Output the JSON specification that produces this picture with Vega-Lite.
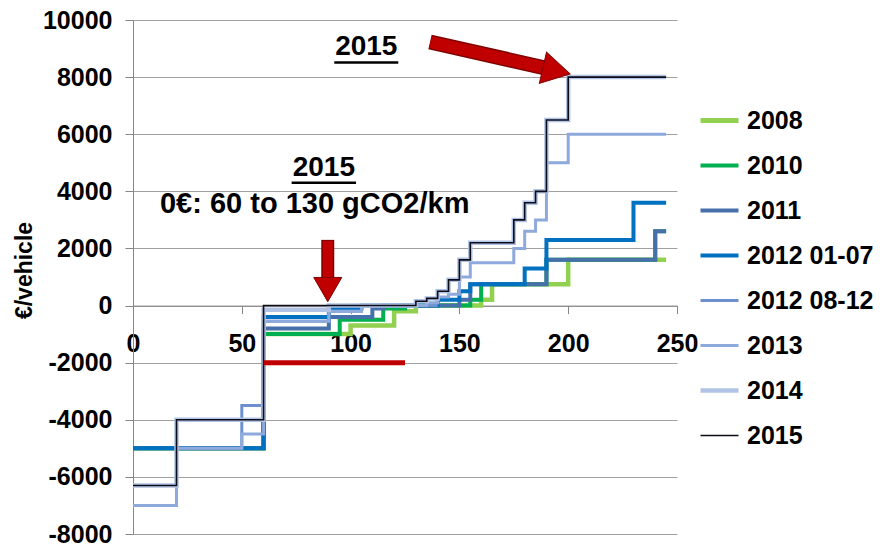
{
  "$schema": "https://vega.github.io/schema/vega-lite/v6.json",
  "width": 544,
  "height": 514,
  "autosize": "none",
  "padding": {"left": 133, "top": 20, "right": 216, "bottom": 11},
  "background": "white",
  "config": {
    "view": {"stroke": null},
    "font": "Liberation Sans",
    "legend": {
      "orient": "none",
      "legendX": 574,
      "legendY": 88,
      "symbolType": "stroke",
      "symbolSize": 1444,
      "rowPadding": 19,
      "labelFontSize": 25,
      "labelFont": "Liberation Sans",
      "labelFontWeight": "bold",
      "labelColor": "#000000",
      "labelOffset": 15,
      "labelLimit": 300,
      "padding": 0
    }
  },
  "datasets": {
    "steps": [
      {"series": "2008", "g": 0, "eur": -5000}, {"series": "2008", "g": 60, "eur": -1000}, {"series": "2008", "g": 100, "eur": -700}, {"series": "2008", "g": 120, "eur": -200}, {"series": "2008", "g": 130, "eur": 0}, {"series": "2008", "g": 160, "eur": 200}, {"series": "2008", "g": 165, "eur": 750}, {"series": "2008", "g": 200, "eur": 1600}, {"series": "2008", "g": 245, "eur": 1600},
      {"series": "2010", "g": 0, "eur": -5000}, {"series": "2010", "g": 60, "eur": -1000}, {"series": "2010", "g": 95, "eur": -500}, {"series": "2010", "g": 115, "eur": -100}, {"series": "2010", "g": 125, "eur": 0}, {"series": "2010", "g": 155, "eur": 200}, {"series": "2010", "g": 160, "eur": 750}, {"series": "2010", "g": 190, "eur": 1600}, {"series": "2010", "g": 240, "eur": 2600}, {"series": "2010", "g": 245, "eur": 2600},
      {"series": "2011", "g": 0, "eur": -5000}, {"series": "2011", "g": 60, "eur": -800}, {"series": "2011", "g": 90, "eur": -400}, {"series": "2011", "g": 110, "eur": -100}, {"series": "2011", "g": 115, "eur": 0}, {"series": "2011", "g": 150, "eur": 200}, {"series": "2011", "g": 155, "eur": 750}, {"series": "2011", "g": 190, "eur": 1600}, {"series": "2011", "g": 240, "eur": 2600}, {"series": "2011", "g": 245, "eur": 2600},
      {"series": "2012 01-07", "g": 0, "eur": -5000}, {"series": "2012 01-07", "g": 60, "eur": -400}, {"series": "2012 01-07", "g": 90, "eur": -100}, {"series": "2012 01-07", "g": 105, "eur": 0}, {"series": "2012 01-07", "g": 140, "eur": 200}, {"series": "2012 01-07", "g": 150, "eur": 500}, {"series": "2012 01-07", "g": 155, "eur": 750}, {"series": "2012 01-07", "g": 180, "eur": 1300}, {"series": "2012 01-07", "g": 190, "eur": 2300}, {"series": "2012 01-07", "g": 230, "eur": 3600}, {"series": "2012 01-07", "g": 245, "eur": 3600},
      {"series": "2012 08-12", "g": 0, "eur": -7000}, {"series": "2012 08-12", "g": 20, "eur": -5000}, {"series": "2012 08-12", "g": 50, "eur": -3500}, {"series": "2012 08-12", "g": 60, "eur": -550}, {"series": "2012 08-12", "g": 90, "eur": -200}, {"series": "2012 08-12", "g": 105, "eur": 0}, {"series": "2012 08-12", "g": 140, "eur": 0},
      {"series": "2013", "g": 0, "eur": -7000}, {"series": "2013", "g": 20, "eur": -5000}, {"series": "2013", "g": 50, "eur": -4500}, {"series": "2013", "g": 60, "eur": -550}, {"series": "2013", "g": 90, "eur": -200}, {"series": "2013", "g": 105, "eur": 0}, {"series": "2013", "g": 135, "eur": 100}, {"series": "2013", "g": 140, "eur": 300}, {"series": "2013", "g": 145, "eur": 400}, {"series": "2013", "g": 150, "eur": 1000}, {"series": "2013", "g": 155, "eur": 1500}, {"series": "2013", "g": 175, "eur": 2000}, {"series": "2013", "g": 180, "eur": 2600}, {"series": "2013", "g": 185, "eur": 3000}, {"series": "2013", "g": 190, "eur": 5000}, {"series": "2013", "g": 200, "eur": 6000}, {"series": "2013", "g": 245, "eur": 6000},
      {"series": "2014", "g": 0, "eur": -6300}, {"series": "2014", "g": 20, "eur": -4000}, {"series": "2014", "g": 60, "eur": -150}, {"series": "2014", "g": 90, "eur": 0}, {"series": "2014", "g": 130, "eur": 150}, {"series": "2014", "g": 135, "eur": 250}, {"series": "2014", "g": 140, "eur": 500}, {"series": "2014", "g": 145, "eur": 900}, {"series": "2014", "g": 150, "eur": 1600}, {"series": "2014", "g": 155, "eur": 2200}, {"series": "2014", "g": 175, "eur": 3000}, {"series": "2014", "g": 180, "eur": 3600}, {"series": "2014", "g": 185, "eur": 4000}, {"series": "2014", "g": 190, "eur": 6500}, {"series": "2014", "g": 200, "eur": 8000}, {"series": "2014", "g": 245, "eur": 8000},
      {"series": "2015", "g": 0, "eur": -6300}, {"series": "2015", "g": 20, "eur": -4000}, {"series": "2015", "g": 60, "eur": 0}, {"series": "2015", "g": 130, "eur": 150}, {"series": "2015", "g": 135, "eur": 250}, {"series": "2015", "g": 140, "eur": 500}, {"series": "2015", "g": 145, "eur": 900}, {"series": "2015", "g": 150, "eur": 1600}, {"series": "2015", "g": 155, "eur": 2200}, {"series": "2015", "g": 175, "eur": 3000}, {"series": "2015", "g": 180, "eur": 3600}, {"series": "2015", "g": 185, "eur": 4000}, {"series": "2015", "g": 190, "eur": 6500}, {"series": "2015", "g": 200, "eur": 8000}, {"series": "2015", "g": 245, "eur": 8000}
    ]
  },
  "layer": [
    {
      "data": {"name": "steps"},
      "mark": {"type": "line", "interpolate": "step-after", "strokeJoin": "miter"},
      "encoding": {
        "x": {
          "field": "g", "type": "quantitative",
          "scale": {"domain": [0, 250], "nice": false, "zero": false},
          "axis": {
            "values": [0, 50, 100, 150, 200, 250], "title": null, "grid": false,
            "offset": -228.4, "domainColor": "#868686", "tickColor": "#868686", "tickSize": 8,
            "labelFontSize": 25, "labelFont": "Liberation Sans", "labelFontWeight": "bold", "labelColor": "#000000",
            "labelPadding": 18, "labelFlush": false, "labelOverlap": false
          }
        },
        "y": {
          "field": "eur", "type": "quantitative",
          "scale": {"domain": [-8000, 10000], "nice": false, "zero": false},
          "axis": {
            "values": [-8000, -6000, -4000, -2000, 0, 2000, 4000, 6000, 8000, 10000],
            "title": "€/vehicle", "grid": true, "gridColor": "#A0A0A0", "gridWidth": 1,
            "domainColor": "#868686", "tickColor": "#868686", "tickSize": 8,
            "labelFontSize": 25, "labelFont": "Liberation Sans", "labelFontWeight": "bold", "labelColor": "#000000",
            "labelPadding": 13, "labelFlush": false, "labelOverlap": false,
            "labelExpr": "datum.value < 0 ? '-' + abs(datum.value) : '' + datum.value",
            "titleFontSize": 23, "titleFont": "Liberation Sans", "titleFontWeight": "bold", "titleColor": "#000000", "titlePadding": 6, "titleY": 250
          }
        },
        "color": {
          "field": "series", "type": "nominal",
          "scale": {
            "domain": ["2008", "2010", "2011", "2012 01-07", "2012 08-12", "2013", "2014", "2015"],
            "range": ["#92D050", "#00B050", "#4770AA", "#0070C0", "#6E90CF", "#8EA9DB", "#B0C3E4", "#0D0D1A"]
          },
          "legend": {
            "title": null,
            "encode": {
              "symbols": {
                "update": {
                  "strokeWidth": {"signal": "datum.value === '2015' ? 1.5 : datum.value === '2008' ? 5 : datum.value === '2014' ? 4.5 : datum.value === '2013' ? 3 : datum.value === '2012 08-12' ? 3 : 4"}
                }
              }
            }
          }
        },
        "strokeWidth": {
          "condition": [
            {"test": "datum.series === '2015'", "value": 1.6},
            {"test": "datum.series === '2008' || datum.series === '2014'", "value": 4.5},
            {"test": "datum.series === '2012 08-12' || datum.series === '2013'", "value": 3}
          ],
          "value": 4
        }
      }
    },
    {
      "data": {"values": [{}]},
      "mark": {"type": "rule", "color": "#C00000", "strokeWidth": 5},
      "encoding": {"x": {"datum": 60, "type": "quantitative"}, "x2": {"datum": 125}, "y": {"datum": -2000, "type": "quantitative"}}
    },
    {
      "data": {"values": [{}]},
      "mark": {"type": "rule", "color": "#7F0000", "strokeWidth": 15, "strokeCap": "butt"},
      "encoding": {"x": {"datum": 136.5, "type": "quantitative"}, "x2": {"datum": 194.0}, "y": {"datum": 9230, "type": "quantitative"}, "y2": {"datum": 8240}}
    },
    {
      "data": {"values": [{}]},
      "mark": {"type": "rule", "color": "#C00000", "strokeWidth": 12, "strokeCap": "butt"},
      "encoding": {"x": {"datum": 136.7, "type": "quantitative"}, "x2": {"datum": 194.6}, "y": {"datum": 9228, "type": "quantitative"}, "y2": {"datum": 8230}}
    },
    {
      "data": {"values": [{}]},
      "mark": {"type": "point", "shape": "triangle-right", "filled": true, "size": 1024, "angle": 12.9, "fill": "#C00000", "stroke": "#7F0000", "strokeWidth": 1, "opacity": 1},
      "encoding": {"x": {"datum": 194.6, "type": "quantitative"}, "y": {"datum": 8218, "type": "quantitative"}}
    },
    {
      "data": {"values": [{}]},
      "mark": {"type": "rule", "color": "#7F0000", "strokeWidth": 13, "strokeCap": "butt"},
      "encoding": {"x": {"datum": 89.5, "type": "quantitative"}, "y": {"datum": 2300, "type": "quantitative"}, "y2": {"datum": 600}}
    },
    {
      "data": {"values": [{}]},
      "mark": {"type": "rule", "color": "#C00000", "strokeWidth": 10, "strokeCap": "butt"},
      "encoding": {"x": {"datum": 89.5, "type": "quantitative"}, "y": {"datum": 2260, "type": "quantitative"}, "y2": {"datum": 560}}
    },
    {
      "data": {"values": [{}]},
      "mark": {"type": "point", "shape": "triangle-down", "filled": true, "size": 784, "fill": "#C00000", "stroke": "#7F0000", "strokeWidth": 1, "opacity": 1},
      "encoding": {"x": {"datum": 89.5, "type": "quantitative"}, "y": {"datum": 560, "type": "quantitative"}}
    },
    {
      "data": {"values": [{}]},
      "mark": {"type": "text", "fontSize": 28, "fontWeight": "bold", "font": "Liberation Sans", "align": "center", "baseline": "middle", "color": "#000000"},
      "encoding": {"x": {"datum": 107.2, "type": "quantitative"}, "y": {"datum": 9055, "type": "quantitative"}, "text": {"value": "2015"}}
    },
    {
      "data": {"values": [{}]},
      "mark": {"type": "rule", "color": "#000000", "strokeWidth": 2.5},
      "encoding": {"x": {"datum": 92.5, "type": "quantitative"}, "x2": {"datum": 121.9}, "y": {"datum": 8510, "type": "quantitative"}}
    },
    {
      "data": {"values": [{}]},
      "mark": {"type": "text", "fontSize": 28, "fontWeight": "bold", "font": "Liberation Sans", "align": "center", "baseline": "middle", "color": "#000000"},
      "encoding": {"x": {"datum": 87.7, "type": "quantitative"}, "y": {"datum": 4807, "type": "quantitative"}, "text": {"value": "2015"}}
    },
    {
      "data": {"values": [{}]},
      "mark": {"type": "rule", "color": "#000000", "strokeWidth": 2.5},
      "encoding": {"x": {"datum": 72.9, "type": "quantitative"}, "x2": {"datum": 102.5}, "y": {"datum": 4303, "type": "quantitative"}}
    },
    {
      "data": {"values": [{}]},
      "mark": {"type": "text", "fontSize": 29, "fontWeight": "bold", "font": "Liberation Sans", "align": "center", "baseline": "middle", "color": "#000000"},
      "encoding": {"x": {"datum": 83.5, "type": "quantitative"}, "y": {"datum": 3564, "type": "quantitative"}, "text": {"value": "0€: 60 to 130 gCO2/km"}}
    }
  ]
}
